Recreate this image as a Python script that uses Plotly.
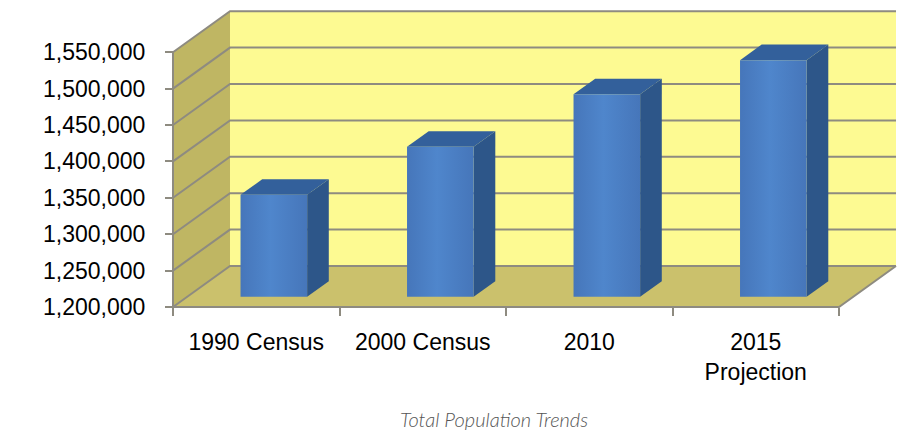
import plotly.graph_objects as go

# ---- data ----
categories = ["1990 Census", "2000 Census", "2010", "2015<br>Projection"]
population = [1340000, 1406000, 1478000, 1525000]
tick_values = [1200000, 1250000, 1300000, 1350000, 1400000, 1450000, 1500000, 1550000]

# ---- geometry / style ----
W, H = 908, 433
ORIGIN_PX = (173, 307)          # pixel of front-left floor corner
PX_PER_CAT = 166.5
VAL_PER_PX = 50000 / 36.4
DEPTH_PX = (57, 41)
PAD = 2
base = tick_values[0]
top_val = tick_values[-1]
n = len(categories)

DX = DEPTH_PX[0] / PX_PER_CAT
DY = DEPTH_PX[1] * VAL_PER_PX

ml = ORIGIN_PX[0] - PAD
mb = H - ORIGIN_PX[1] - PAD
mr = 8
mt = 9
plot_w = W - ml - mr
plot_h = H - mt - mb
x_range = [-PAD / PX_PER_CAT, (plot_w - PAD) / PX_PER_CAT]
y_range = [base - PAD * VAL_PER_PX, base + (plot_h - PAD) * VAL_PER_PX]

BACK = "#FDFA92"
LEFT = "#BFB663"
FLOOR = "#CBC16C"
GRID = "#8E8B80"
FRONT = "#4A7EC2"
SIDE = "#2D5689"
TOPC = "#33609B"

fig = go.Figure()

def poly(xs, ys, color, gradient=None):
    kw = dict(x=xs + [xs[0]], y=ys + [ys[0]], mode="lines", fill="toself",
              fillcolor=color, line=dict(width=0, color=color),
              hoverinfo="skip", showlegend=False)
    if gradient is not None:
        kw["fillgradient"] = gradient
    fig.add_trace(go.Scatter(**kw))

# back wall
poly([DX, n + DX, n + DX, DX], [base + DY, base + DY, top_val + DY, top_val + DY], BACK)
# left wall
poly([0, 0, DX, DX], [base, top_val, top_val + DY, base + DY], LEFT)
# floor
poly([0, n, n + DX, DX], [base, base, base + DY, base + DY], FLOOR)

# gridlines
gx, gy = [], []
for v in tick_values:
    gx += [0, DX, n + DX, None]
    gy += [v, v + DY, v + DY, None]
fig.add_trace(go.Scatter(x=gx, y=gy, mode="lines", line=dict(color=GRID, width=2),
                         hoverinfo="skip", showlegend=False))
# edges
fig.add_trace(go.Scatter(x=[0, 0, None, 0, n, n + DX],
                         y=[top_val, base, None, base, base, base + DY],
                         mode="lines", line=dict(color=GRID, width=2),
                         hoverinfo="skip", showlegend=False))

# bars
F1, F2 = 0.25, 0.63
grad = dict(type="horizontal", colorscale=[[0, "#4676BA"], [0.45, "#4F86CC"], [1, "#4676BA"]])
for i, v in enumerate(population):
    x0, x1 = i + 0.32, i + 0.72
    a1, b1 = F1 * DX, F1 * DY
    a2, b2 = F2 * DX, F2 * DY
    poly([x1 + a1, x1 + a2, x1 + a2, x1 + a1], [base + b1, base + b2, v + b2, v + b1], SIDE)
    poly([x0 + a1, x1 + a1, x1 + a2, x0 + a2], [v + b1, v + b1, v + b2, v + b2], TOPC)
    poly([x0 + a1, x1 + a1, x1 + a1, x0 + a1], [base + b1, base + b1, v + b1, v + b1], FRONT, grad)

fig.update_layout(
    width=W, height=H,
    margin=dict(l=ml, r=mr, t=mt, b=mb, pad=0),
    paper_bgcolor="white", plot_bgcolor="white",
    font=dict(family="Liberation Sans, Arial, sans-serif", size=23, color="#000000"),
    xaxis=dict(range=x_range, domain=[0, 1], anchor="free", position=PAD / plot_h,
               tickmode="array", tickvals=[i + 0.5 for i in range(n)], ticktext=categories,
               ticks="", showgrid=False, zeroline=False, showline=False,
               ticklabelstandoff=19,
               minor=dict(tickmode="array", tickvals=list(range(n + 1)), ticks="outside",
                          ticklen=8, tickwidth=2, tickcolor=GRID, showgrid=False)),
    yaxis=dict(range=y_range, domain=[0, 1], anchor="free", position=PAD / plot_w,
               tickmode="array", tickvals=tick_values, tickformat=",",
               ticks="outside", ticklen=8, tickwidth=2, tickcolor=GRID,
               ticklabelstandoff=15,
               showgrid=False, zeroline=False, showline=False),
    annotations=[dict(text="Total Population Trends", xref="paper", yref="paper",
                      x=(494 - ml) / plot_w, y=-(419 - (H - mb)) / plot_h,
                      xanchor="center", yanchor="middle", showarrow=False,
                      font=dict(family="Lato, sans-serif", size=20, color="#555555",
                                style="italic", weight=300))],
)

fig.write_html("out.html")
